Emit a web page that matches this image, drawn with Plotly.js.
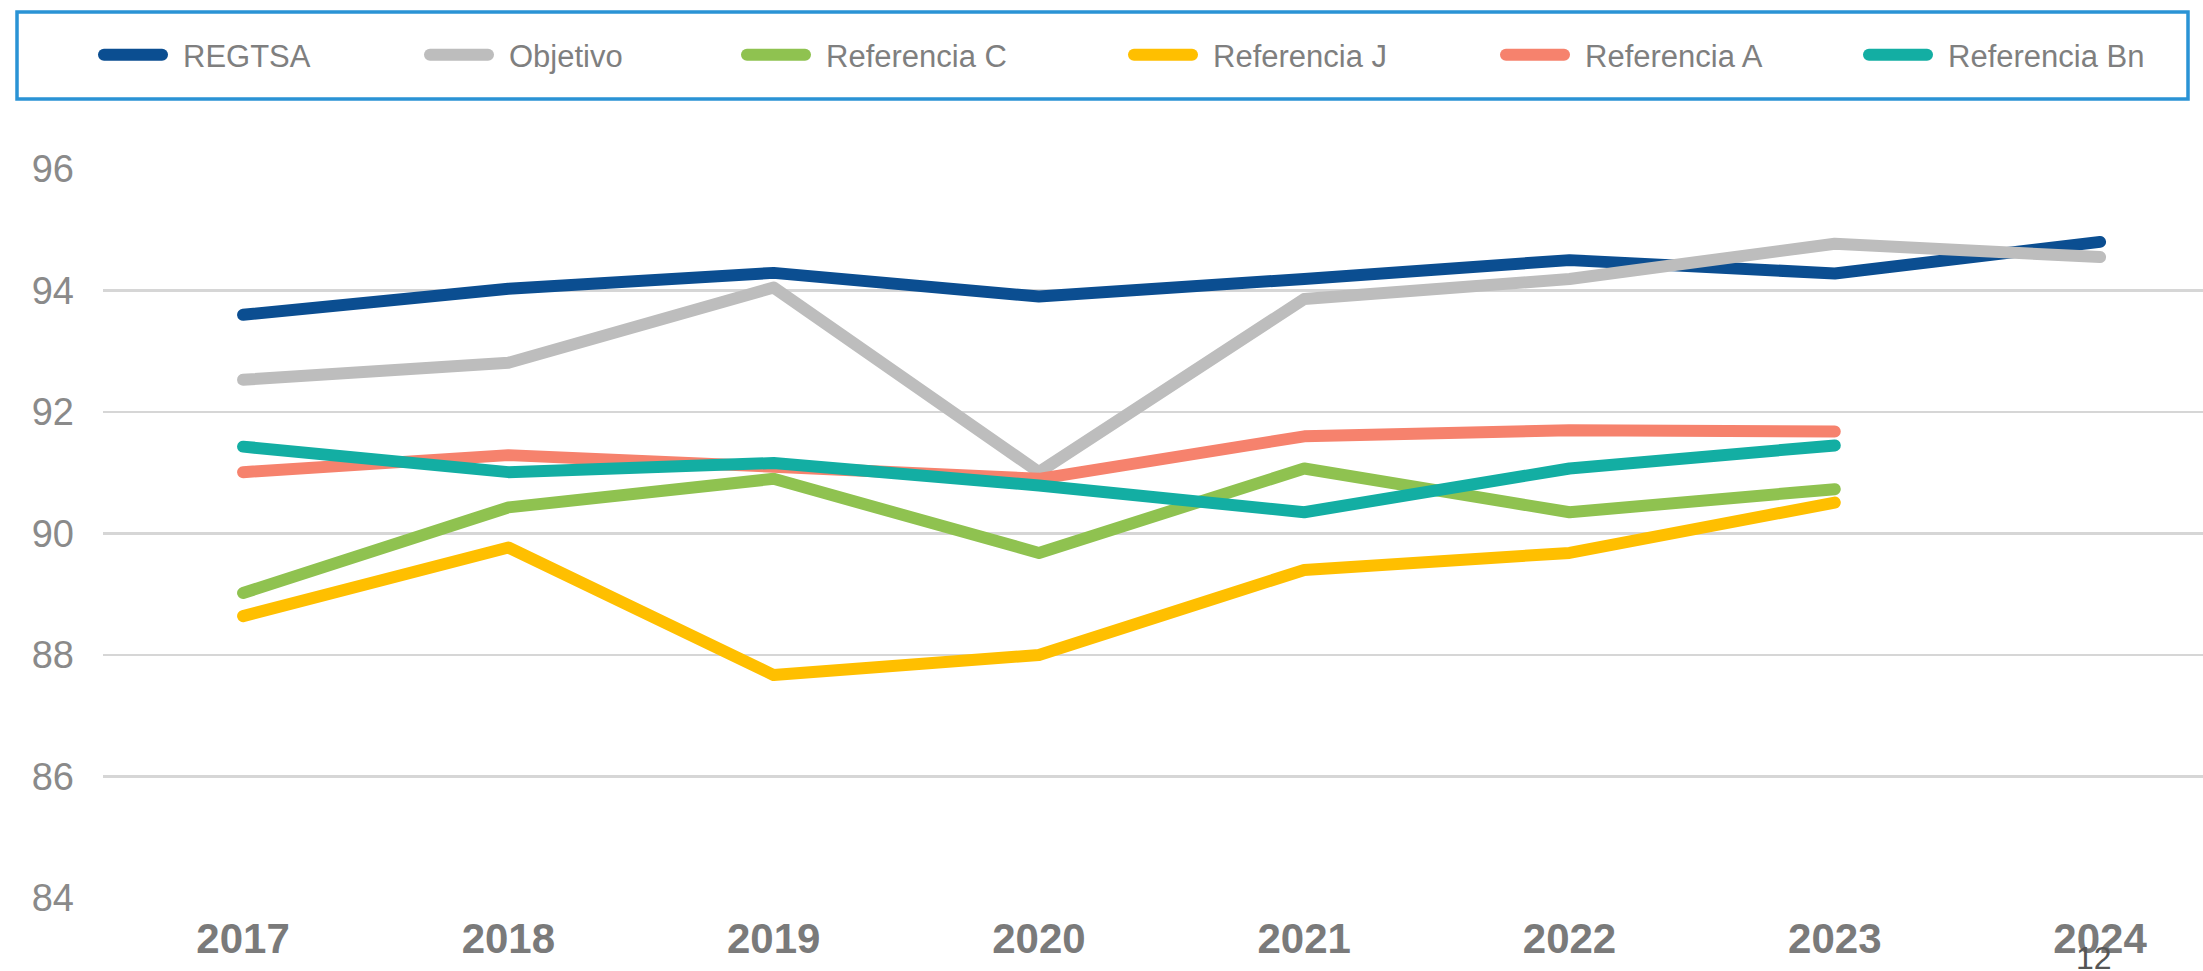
<!DOCTYPE html>
<html>
<head>
<meta charset="utf-8">
<script src="https://cdn.plot.ly/plotly-3.0.1.min.js"></script>
<style>
  html, body { margin: 0; padding: 0; background: #ffffff; }
  #chart { width: 2203px; height: 971px; }
</style>
</head>
<body>
<div id="chart"></div>
<script>
// ---- data ----
const years = ['2017', '2018', '2019', '2020', '2021', '2022', '2023', '2024'];
const seriesNames = ['REGTSA', 'Objetivo', 'Referencia C', 'Referencia J', 'Referencia A', 'Referencia Bn'];
const regtsa   = [93.6, 94.03, 94.29, 93.9, 94.19, 94.5, 94.28, 94.8];
const objetivo = [92.53, 92.81, 94.05, 91.01, 93.86, 94.19, 94.77, 94.55];
const refC     = [89.02, 90.43, 90.9, 89.68, 91.07, 90.35, 90.73];
const refJ     = [88.64, 89.77, 87.67, 88.0, 89.4, 89.68, 90.51];
const refA     = [91.01, 91.29, 91.1, 90.9, 91.6, 91.7, 91.68];
const refBn    = [91.43, 91.01, 91.16, 90.79, 90.35, 91.07, 91.45];
const yTicks   = [84, 86, 88, 90, 92, 94, 96];
const pageNumber = '12';

// ---- styling ----
const W = 2203, H = 971;
const colors = ['#0b4e91', '#bdbdbd', '#8fc250', '#ffbf00', '#f6826d', '#13aea3'];
const values = [regtsa, objetivo, refC, refJ, refA, refBn];
const legendLineStarts = [98, 424, 741, 1128, 1500, 1863]; // px, visible start of legend swatch
const legendIds = ['legend', 'legend2', 'legend3', 'legend4', 'legend5', 'legend6'];

const traces = values.map((v, i) => ({
  type: 'scatter',
  mode: 'lines',
  x: years.slice(0, v.length),
  y: v,
  name: seriesNames[i],
  legend: legendIds[i],
  line: { color: colors[i], width: 12 },
  hoverinfo: 'x+y+name'
}));

const legendFont = { family: '"Liberation Sans", Arial, sans-serif', size: 31, color: '#7f7f7f' };

const layout = {
  width: W,
  height: H,
  paper_bgcolor: '#ffffff',
  plot_bgcolor: '#ffffff',
  margin: { l: 103, r: 0, t: 169, b: 73 },
  showlegend: true,
  xaxis: {
    type: 'category',
    range: [-0.528, 7.388],
    showgrid: false,
    zeroline: false,
    showline: false,
    ticks: '',
    tickfont: { family: '"Liberation Sans", Arial, sans-serif', size: 42, color: '#7a7a7a', weight: 'bold' },
    ticklabelstandoff: 12,
    fixedrange: true
  },
  yaxis: {
    range: [84, 96],
    tickvals: yTicks,
    ticktext: yTicks.map(String),
    showgrid: true,
    gridcolor: '#d6d6d6',
    gridwidth: 2.5,
    zeroline: false,
    showline: false,
    ticks: '',
    ticklabelstandoff: 28,
    tickfont: { family: '"Liberation Sans", Arial, sans-serif', size: 38, color: '#8a8a8a' },
    fixedrange: true
  },
  shapes: [{
    type: 'rect',
    xref: 'paper', yref: 'paper',
    x0: (17 - 103) / 2100, x1: (2188 - 103) / 2100,
    y0: 1 + (169 - 99) / 729, y1: 1 + (169 - 12) / 729,
    line: { color: '#2a93d5', width: 3.5 },
    fillcolor: 'rgba(0,0,0,0)',
    layer: 'above'
  }],
  annotations: [{
    text: pageNumber,
    xref: 'paper', yref: 'paper',
    x: (2094 - 103) / 2100,
    y: -(938 - 898) / 729,
    xanchor: 'center', yanchor: 'top',
    showarrow: false,
    font: { family: '"Liberation Sans", Arial, sans-serif', size: 32, color: '#555555' }
  }]
};

legendIds.forEach((id, i) => {
  layout[id] = {
    xref: 'container', yref: 'container',
    x: (legendLineStarts[i] - 5) / W,
    y: 1 - 55 / H,
    xanchor: 'left', yanchor: 'middle',
    orientation: 'h',
    bgcolor: 'rgba(0,0,0,0)',
    borderwidth: 0,
    itemwidth: 80,
    itemclick: false,
    itemdoubleclick: false,
    font: legendFont
  };
});

Plotly.newPlot('chart', traces, layout, { displayModeBar: false, staticPlot: true }).then(() => {
  document.querySelectorAll('.scatterlayer path.js-line').forEach(p => {
    p.style.strokeLinecap = 'round';
    p.style.strokeLinejoin = 'round';
  });
  document.querySelectorAll('g.legendlines path').forEach(p => {
    p.style.strokeLinecap = 'round';
    p.style.strokeWidth = '12px';
    p.setAttribute('d', 'M11,0h58');
  });
});
</script>
</body>
</html>
